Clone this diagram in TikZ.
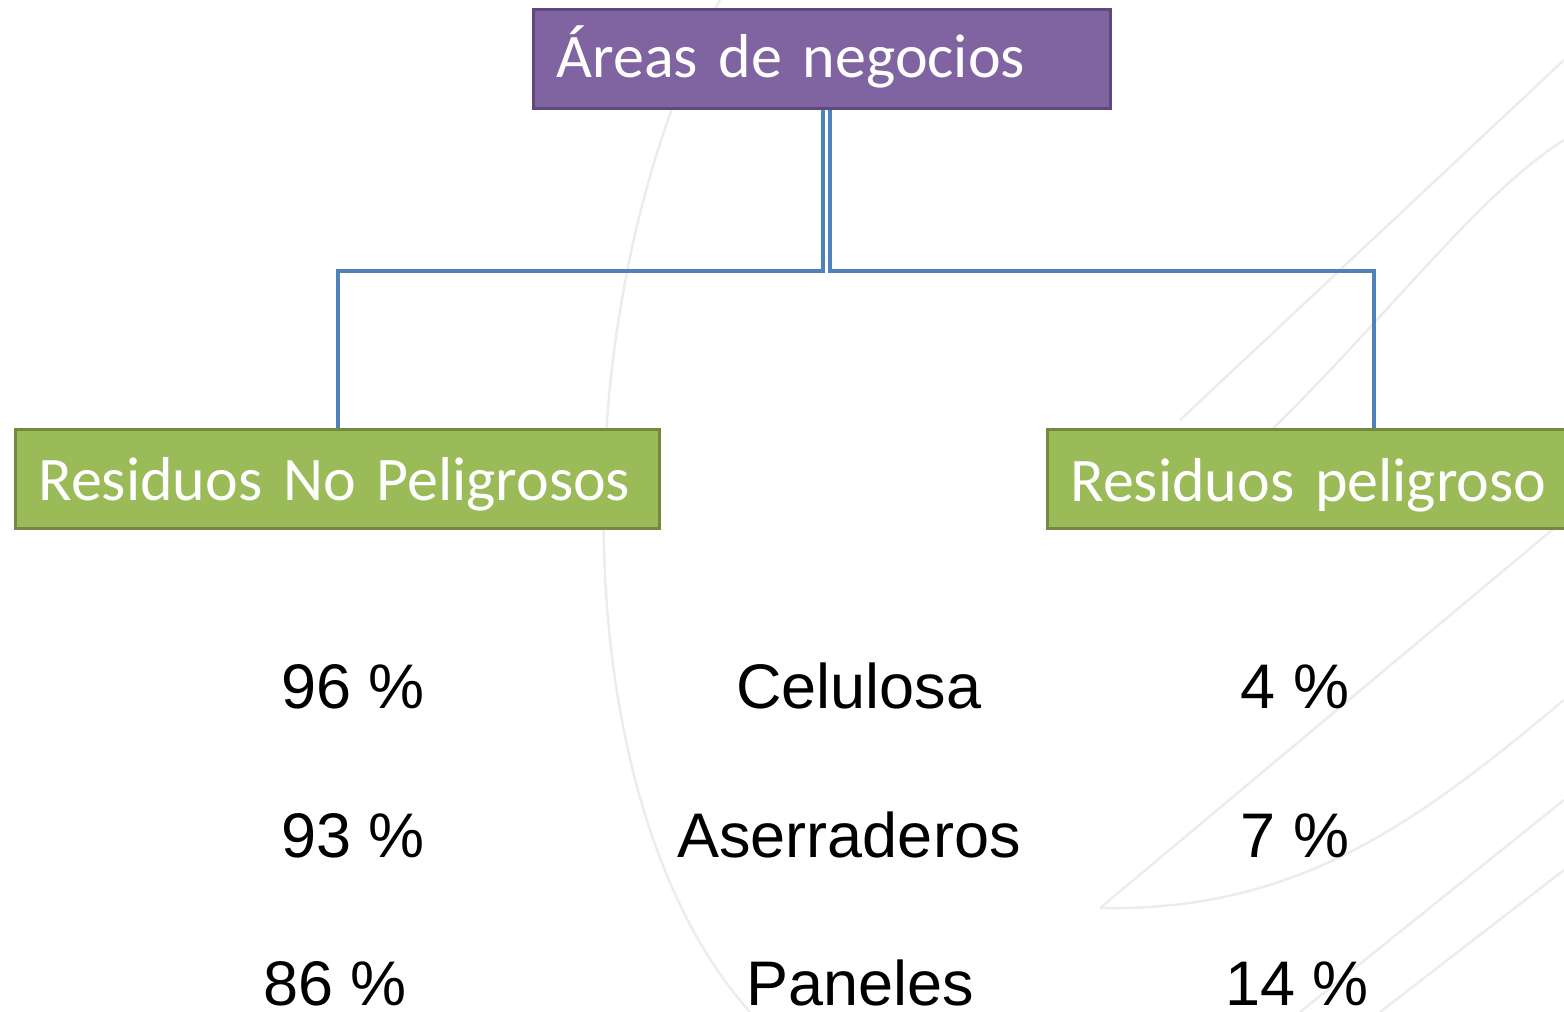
\documentclass[tikz,border=0pt]{standalone}
\usepackage{fontspec}
\setmainfont{Liberation Sans}
\newfontfamily\calib{Carlito}
\definecolor{boxpurple}{HTML}{8064A2}
\definecolor{boxpurpleb}{HTML}{5E4A7A}
\definecolor{boxgreen}{HTML}{9BBB59}
\definecolor{boxgreenb}{HTML}{72893F}
\definecolor{connblue}{HTML}{4F81BD}
\definecolor{wm}{HTML}{ECECEC}
\begin{document}
\begin{tikzpicture}[x=0.5pt,y=-0.5pt,
  hbox/.style={draw, line width=1.5pt, inner ysep=0pt, inner xsep=11.5pt, align=left,
     font=\calib\fontsize{31}{31}\selectfont, text=white},
  conn/.style={draw=connblue, line width=2pt},
  val/.style={anchor=base, inner sep=0pt, font=\fontsize{31.5}{31.5}\selectfont},
  wmline/.style={draw=wm, line width=1.2pt}]
\clip (0,0) rectangle (1564,1012);
\fill[white] (0,0) rectangle (1564,1012);
% watermark
\draw[wmline] (720,0) .. controls (560,300) and (560,800) .. (750,1012);
\draw[wmline] (1100,908) -- (1564,520);
\draw[wmline] (1100,908) .. controls (1300,912) and (1420,820) .. (1564,700);
\draw[wmline] (1180,420) -- (1564,60);
\draw[wmline] (1230,470) .. controls (1380,330) and (1470,200) .. (1564,140);
\draw[wmline] (1300,1012) -- (1564,800);
\draw[wmline] (1380,1012) -- (1564,870);
% boxes
\node[hbox, fill=boxpurple, draw=boxpurpleb, anchor=north west, text width=265.5pt,
  text height=34pt, text depth=15.5pt] (top) at (532,8) {Áreas de negocios};
\node[hbox, fill=boxgreen, draw=boxgreenb, anchor=north west, text width=299pt,
  text height=35.5pt, text depth=14pt] (L) at (14,428) {Residuos No Peligrosos};
\node[hbox, fill=boxgreen, draw=boxgreenb, anchor=north west, text width=303pt,
  text height=36pt, text depth=13.5pt] (R) at (1046,428) {Residuos peligroso};
% connectors
\draw[conn] ([xshift=0.25pt]top.south) -- ++(0,161) -| (L.north);
\draw[conn] ([xshift=3.75pt]top.south) -- ++(0,161) -| (R.north);
% values
\node[val] (a1) at (353,708) {96 \%};
\node[val] (b1) at (859,708) {Celulosa};
\node[val] (c1) at (1295,708) {4 \%};
\node[val] (a2) at (353,857) {93 \%};
\node[val] (b2) at (849,857) {Aserraderos};
\node[val] (c2) at (1295,857) {7 \%};
\node[val] (a3) at (335,1005) {86 \%};
\node[val] (b3) at (860,1005) {Paneles};
\node[val] (c3) at (1297,1005) {14 \%};
\end{tikzpicture}
\end{document}
